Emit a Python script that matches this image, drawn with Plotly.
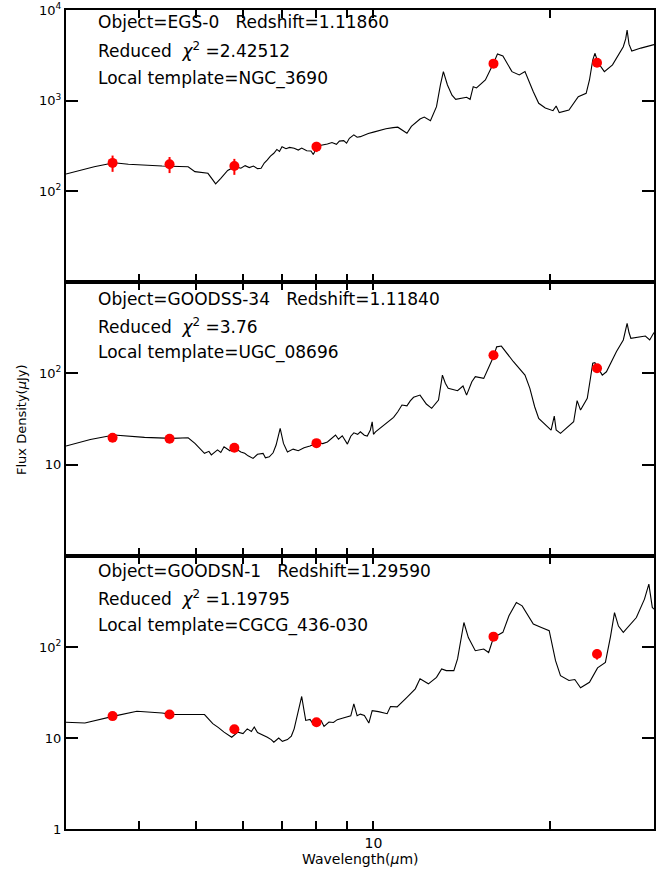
import plotly.graph_objects as go

# ---------------- data ----------------
# Panel 1: EGS-0 (template NGC_3690)
wl_1 = [3.0, 3.35, 3.62, 3.83, 4.37, 4.84, 4.97, 5.23, 5.33, 5.39, 5.5, 5.65, 5.81,
        5.95, 6.05, 6.15, 6.25, 6.35, 6.44, 6.52, 6.6, 6.68, 6.77, 6.85, 6.92, 6.99,
        7.1, 7.2, 7.33, 7.45, 7.55, 7.7, 7.83, 7.9, 8.03, 8.15, 8.35, 8.5, 8.65, 8.75,
        8.9, 9.0, 9.1, 9.26, 9.38, 9.5, 9.65, 9.8, 10.0, 10.27, 10.5, 10.8, 11.0, 11.4,
        11.6, 12.0, 12.2, 12.5, 12.8, 13.0, 13.15, 13.36, 13.6, 13.8, 14.1, 14.4, 14.6,
        14.78, 14.97, 15.5, 16.0, 16.25, 16.6, 17.2, 17.7, 18.1, 18.7, 19.1, 19.6, 20.2,
        20.45, 20.7, 21.5, 22.3, 23.0, 23.3, 23.6, 23.8, 24.1, 24.7, 25.5, 26.6, 26.85,
        27.0, 27.2, 27.5, 28.5, 30.0]
fl_1 = [155, 187, 207, 199, 190, 187, 165, 158, 134, 121, 139, 170, 187,
        180, 192, 183, 190, 178, 180, 205, 222, 245, 263, 290, 275, 311,
        295, 305, 299, 285, 300, 280, 279, 255, 316, 320, 333, 345, 330, 358,
        362, 340, 385, 419, 395, 401, 420, 435, 450, 475, 490, 504, 510, 437,
        520, 628, 660, 602, 859, 1500, 2090, 1490, 1150, 1035, 1070, 1090, 1035,
        1427, 1380, 1690, 2580, 3270, 3110, 2090, 1920, 2090, 1256, 935, 830, 776,
        874, 738, 788, 1107, 1205, 1690, 2800, 3330, 2620, 2090, 2480, 3935, 4800,
        6010, 4200, 3530, 3800, 4150]

# Panel 2: GOODSS-34 (template UGC_08696)
wl_2 = [3.0, 3.3, 3.62, 4.08, 4.54, 4.84, 4.97, 5.16, 5.25, 5.3, 5.43, 5.5, 5.57, 5.7,
        5.81, 5.95, 6.04, 6.12, 6.24, 6.35, 6.49, 6.55, 6.65, 6.75, 6.83, 6.94, 7.03,
        7.14, 7.3, 7.45, 7.62, 7.8, 8.03, 8.2, 8.35, 8.5, 8.62, 8.72, 8.85, 9.03, 9.15,
        9.26, 9.4, 9.5, 9.65, 9.76, 9.88, 9.95, 10.0, 10.08, 10.4, 10.82, 11.0, 11.18,
        11.4, 11.55, 11.7, 12.0, 12.3, 12.56, 12.9, 13.0, 13.1, 13.25, 13.4, 13.9, 14.2,
        14.4, 14.7, 14.9, 15.4, 16.0, 16.2, 16.5, 17.3, 18.1, 18.45, 18.8, 19.1, 20.05,
        20.2, 20.3, 20.45, 20.8, 21.9, 22.1, 22.2, 22.5, 23.1, 23.4, 23.6, 23.8, 24.5,
        24.9, 25.9, 26.6, 26.85, 27.0, 27.2, 27.4, 29.0, 29.5, 30.0]
fl_2 = [16.0, 18.9, 21.1, 19.9, 19.4, 19.7, 17.1, 13.3, 14.0, 12.8, 14.5, 13.6, 15.7, 14.2,
        15.2, 13.8, 13.3, 12.5, 11.7, 13.0, 13.3, 11.9, 12.2, 13.5, 16.4, 25.0, 17.1,
        13.8, 14.8, 14.2, 15.3, 16.0, 17.4, 17.0, 17.7, 19.5, 21.1, 19.0, 20.7, 16.8, 20.5,
        22.3, 21.5, 22.9, 21.0, 20.6, 24.0, 29.5, 21.5, 22.9, 27.0, 33.0, 38.0, 45.0,
        44.0, 50.0, 54.6, 57.8, 46.1, 41.4, 51.0, 75.0, 95.7, 78.0, 68.5, 64.5, 72.6,
        57.8, 80.9, 91.8, 88.0, 152, 195, 199, 134, 95.7, 68.5, 43.1, 32.1, 23.9,
        30.0, 34.0, 24.0, 22.0, 29.5, 42.0, 50.2, 39.6, 53.2, 90.0, 129, 131, 95.7,
        104, 173, 232, 300, 353, 280, 242, 256, 232, 280]

# Panel 3: GOODSN-1 (template CGCG_436-030)
wl_3 = [3.0, 3.23, 3.62, 3.96, 4.37, 4.54, 5.16, 5.33, 5.45, 5.57, 5.74, 5.88, 6.0, 6.1,
        6.2, 6.27, 6.35, 6.45, 6.6, 6.7, 6.77, 6.9, 7.0, 7.14, 7.25, 7.33, 7.48, 7.55,
        7.62, 7.67, 7.8, 7.9, 8.03, 8.15, 8.24, 8.4, 8.55, 8.68, 8.85, 9.03, 9.15, 9.26,
        9.38, 9.5, 9.65, 9.82, 9.95, 10.2, 10.55, 10.69, 10.97, 11.4, 11.78, 12.0, 12.25,
        12.4, 12.8, 13.06, 13.3, 13.7, 13.9, 14.1, 14.25, 14.5, 14.9, 15.4, 15.7, 16.0,
        16.6, 17.0, 17.5, 17.9, 18.7, 19.3, 19.9, 20.4, 20.8, 21.5, 22.0, 22.5, 23.3,
        24.05, 24.8, 25.3, 25.7, 26.1, 26.6, 28.0, 28.9, 29.4, 29.8, 30.0]
fl_3 = [14.9, 14.6, 17.4, 19.7, 18.8, 18.2, 18.1, 14.4, 13.0, 11.6, 10.2, 11.6, 11.2, 12.6,
        11.8, 13.2, 11.5, 11.0, 10.2, 9.6, 9.0, 10.0, 9.2, 9.6, 10.5, 12.6, 22.7, 28.6,
        20.0, 15.6, 16.0, 14.2, 14.6, 15.5, 13.4, 15.0, 14.8, 15.9, 16.5, 16.9, 17.5, 23.7,
        17.6, 18.3, 17.7, 14.6, 20.0, 19.5, 18.5, 22.2, 22.0, 28.0, 34.7, 44.7, 41.5,
        39.4, 46.4, 57.4, 55.0, 55.0, 74.0, 130, 186, 127, 91.0, 95.0, 87.0, 127,
        145, 220, 308, 283, 179, 164, 151, 70.8, 48.5, 42.8, 43.9, 35.6, 40.9,
        58.9, 67.8, 130, 239, 170, 145, 211, 336, 490, 272, 260]

# photometry
phot_wl = [3.6, 4.5, 5.8, 8.0, 16.0, 24.0]
phot_1 = [206, 199, 190, 311, 2560, 2620]
err_1 = [42, 40, 38, 40, 100, 100]
phot_2 = [19.7, 19.2, 15.3, 17.2, 158, 113.5]
err_2 = [0.5, 0.5, 0.5, 0.5, 4, 3]
phot_3 = [17.4, 18.1, 12.5, 14.9, 130, 83.8]
err_3 = [0.5, 0.5, 0.5, 0.5, 6, 11]

labels = [
    ["Object=EGS-0\u00a0\u00a0\u00a0Redshift=1.11860",
     "Reduced\u00a0\u00a0<i>χ</i><sup>2</sup>\u00a0=2.42512",
     "Local\u00a0template=NGC_3690"],
    ["Object=GOODSS-34\u00a0\u00a0\u00a0Redshift=1.11840",
     "Reduced\u00a0\u00a0<i>χ</i><sup>2</sup>\u00a0=3.76",
     "Local\u00a0template=UGC_08696"],
    ["Object=GOODSN-1\u00a0\u00a0\u00a0Redshift=1.29590",
     "Reduced\u00a0\u00a0<i>χ</i><sup>2</sup>\u00a0=1.19795",
     "Local\u00a0template=CGCG_436-030"],
]

x_tickvals = [3, 4, 5, 6, 7, 8, 9, 10, 20, 30]
x_ticktext = ["", "", "", "", "", "", "", "10", "", ""]
y_tickvals = [[10, 100, 1000, 10000], [1, 10, 100, 1000], [1, 10, 100, 1000]]
y_ticktext = [["", "10<sup>2</sup>", "10<sup>3</sup>", "10<sup>4</sup>"],
              ["", "10", "10<sup>2</sup>", ""],
              ["1", "10", "10<sup>2</sup>", ""]]
y_ranges = [[1, 4], [0, 3], [0, 3]]

# ---------------- figure ----------------
W, H = 663, 875
ML, MR, MT, MB = 66, 9, 10, 46
PW = W - ML - MR
PH = H - MT - MB

def py2paper(py):
    return (H - MB - py) / PH

def px2paper(px):
    return (px - ML) / PW

panel_px = [(10, 282), (282, 556), (556, 829)]
domains = [[py2paper(b), py2paper(t)] for (t, b) in panel_px]
domains[2][0] = 0.0
domains[0][1] = 1.0

fig = go.Figure()
specs = [(wl_1, fl_1, phot_1, err_1), (wl_2, fl_2, phot_2, err_2), (wl_3, fl_3, phot_3, err_3)]
for i, (wl, fl, pf, pe) in enumerate(specs):
    sfx = "" if i == 0 else str(i + 1)
    fig.add_trace(go.Scatter(x=wl, y=fl, mode="lines", line=dict(color="black", width=1.1),
                             xaxis="x" + sfx, yaxis="y" + sfx, showlegend=False))
    fig.add_trace(go.Scatter(x=phot_wl, y=pf, mode="markers",
                             marker=dict(color="#ff0000", size=10),
                             error_y=dict(type="data", array=pe, color="#ff0000",
                                          thickness=2, width=0),
                             xaxis="x" + sfx, yaxis="y" + sfx, showlegend=False))

font_main = "DejaVu Sans"
for i in range(3):
    sfx = "" if i == 0 else str(i + 1)
    fig.layout["xaxis" + sfx] = dict(
        domain=[0, 1], anchor="y" + sfx, type="log", automargin=False,
        range=[0.4771, 1.4771], showline=True, linecolor="black", linewidth=2,
        mirror="ticks", ticks="inside", tickvals=x_tickvals, ticktext=x_ticktext,
        ticklen=8, tickwidth=1.5, tickcolor="black",
        showticklabels=(i == 2), showgrid=False, zeroline=False,
        tickfont=dict(family=font_main, size=14, color="black"),
    )
    # overlay axis carrying the longer major tick at 10
    fig.layout["xaxis" + str(i + 4)] = dict(
        domain=[0, 1], anchor="y" + sfx, overlaying="x" + sfx, type="log",
        automargin=False, range=[0.4771, 1.4771], showline=True, linecolor="black",
        linewidth=2, mirror="ticks", ticks="inside", tickvals=[10], ticklen=16,
        tickwidth=1.5, tickcolor="black", showticklabels=False, showgrid=False,
        zeroline=False, side="bottom",
    )
    fig.layout["yaxis" + sfx] = dict(
        domain=domains[i], anchor="x" + sfx, type="log", range=y_ranges[i],
        automargin=False,
        showline=True, linecolor="black", linewidth=2, mirror="ticks",
        ticks="inside", ticklen=12, tickwidth=1.5, tickcolor="black",
        tickvals=y_tickvals[i], ticktext=y_ticktext[i], showgrid=False,
        zeroline=False, tickfont=dict(family=font_main, size=13, color="black"),
    )

line_py = [(22, 50, 78), (299, 326, 353), (571, 598, 625)]
annots = []
for i in range(3):
    for j in range(3):
        annots.append(dict(x=px2paper(96), y=py2paper(line_py[i][j]), xref="paper", yref="paper",
                           text=labels[i][j], showarrow=False, xanchor="left", yanchor="middle",
                           font=dict(family=font_main, size=17, color="black")))
annots.append(dict(x=px2paper(360), y=py2paper(859), xref="paper", yref="paper",
                   text="Wavelength(<i>μ</i>m)", showarrow=False, xanchor="center",
                   yanchor="middle", font=dict(family=font_main, size=14, color="black")))
annots.append(dict(x=px2paper(21), y=py2paper(420), xref="paper", yref="paper",
                   text="Flux Density(<i>μ</i>Jy)", showarrow=False, textangle=-90,
                   xanchor="center", yanchor="middle",
                   font=dict(family=font_main, size=13, color="black")))

fig.update_layout(width=W, height=H, margin=dict(l=ML, r=MR, t=MT, b=MB, autoexpand=False),
                  paper_bgcolor="white", plot_bgcolor="white", annotations=annots,
                  showlegend=False)

fig.write_html("out.html")
